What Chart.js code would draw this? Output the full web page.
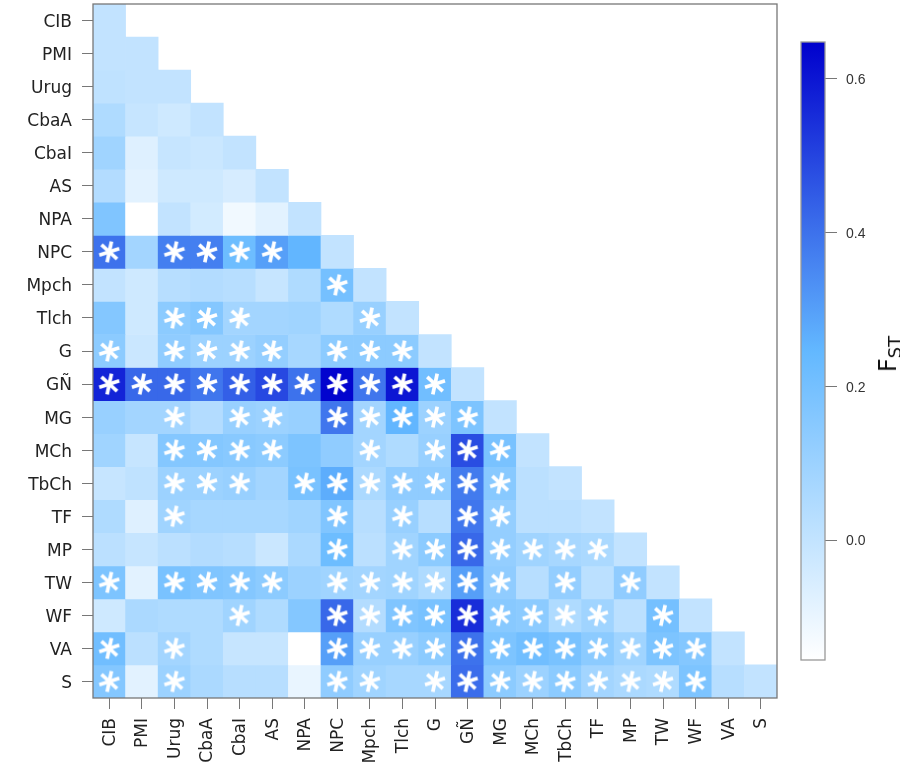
<!DOCTYPE html>
<html lang="en">
<head>
  <meta charset="UTF-8">
  <title>FST heatmap</title>
  <script src="https://cdn.jsdelivr.net/npm/chart.js"></script>
  <style>
    body { margin: 0; background: #fff; overflow: hidden; }
    .wrap { position: relative; width: 900px; height: 768px; overflow: hidden; }
    canvas { position: absolute; left: 0; top: 0; }
    /* the y labels push the plot down 8px, so the canvas starts above the page */
    #heat { top: -8px; }
    #fst {
      position: absolute; left: 888px; top: 354px;
      transform: translate(-50%, -50%) rotate(-90deg);
      font: 24px "DejaVu Sans"; color: #111; white-space: nowrap;
    }
    #fst sub { font-size: 18px; vertical-align: -5px; line-height: 0; }
  </style>
</head>
<body>
  <div class="wrap">
    <canvas id="heat" width="900" height="776"></canvas>
    <canvas id="bar" width="900" height="768"></canvas>
    <div id="fst">F<sub>ST</sub></div>
  </div>

  <script>
    const pops = ['CIB', 'PMI', 'Urug', 'CbaA', 'CbaI', 'AS', 'NPA', 'NPC', 'Mpch', 'Tlch', 'G', 'GÑ', 'MG', 'MCh', 'TbCh', 'TF', 'MP', 'TW', 'WF', 'VA', 'S'];

    // lower triangle
    const rowCIB = [0];
    const rowPMI = [0, 0];
    const rowUrug = [0.01, 0, 0];
    const rowCbaA = [0.05, -0.01, -0.03, 0];
    const rowCbaI = [0.09, -0.07, -0.01, -0.02, 0];
    const rowAS = [0.04, -0.08, -0.03, -0.03, -0.05, 0];
    const rowNPA = [0.17, -0.156, 0, -0.04, -0.12, -0.08, 0];
    const rowNPC = [0.40, 0.08, 0.37, 0.37, 0.22, 0.30, 0.25, 0];
    const rowMpch = [0, -0.03, 0.03, 0.04, 0.03, -0.01, 0.05, 0.20, 0];
    const rowTlch = [0.16, -0.03, 0.14, 0.16, 0.08, 0.08, 0.09, 0.05, 0.11, 0];
    const rowG = [0.14, -0.02, 0.13, 0.10, 0.10, 0.12, 0.07, 0.14, 0.14, 0.14, 0];
    const rowGN = [0.57, 0.42, 0.42, 0.39, 0.44, 0.49, 0.40, 0.64, 0.39, 0.60, 0.21, 0];
    const rowMG = [0.11, 0.08, 0.08, 0.04, 0.11, 0.10, 0.11, 0.39, 0.08, 0.25, 0.10, 0.18, 0];
    const rowMCh = [0.09, -0.01, 0.16, 0.16, 0.15, 0.14, 0.18, 0.13, 0.08, 0.05, 0.11, 0.48, 0.19, 0];
    const rowTbCh = [-0.01, 0.01, 0.10, 0.10, 0.11, 0.08, 0.19, 0.27, 0.06, 0.13, 0.13, 0.38, 0.15, 0.02, 0];
    const rowTF = [0.05, -0.07, 0.09, 0.07, 0.07, 0.07, 0.09, 0.17, 0.03, 0.11, 0.03, 0.39, 0.12, 0.02, 0.02, 0];
    const rowMP = [0.02, -0.01, 0.02, 0.04, 0.03, -0.02, 0.06, 0.22, 0.02, 0.09, 0.14, 0.42, 0.12, 0.09, 0.07, 0.06, 0];
    const rowTW = [0.18, -0.08, 0.19, 0.17, 0.16, 0.14, 0.10, 0.09, 0.08, 0.09, 0.05, 0.30, 0.13, 0.03, 0.12, 0.02, 0.13, 0];
    const rowWF = [-0.03, 0.06, 0.05, 0.05, 0.09, 0.05, 0.16, 0.42, 0.04, 0.17, 0.19, 0.55, 0.15, 0.14, 0.05, 0.09, 0.02, 0.20, 0];
    const rowVA = [0.21, 0.02, 0.08, 0.05, -0.01, -0.01, -0.156, 0.30, 0.11, 0.11, 0.14, 0.40, 0.18, 0.21, 0.19, 0.14, 0.09, 0.18, 0.16, 0];
    const rowS = [0.16, -0.08, 0.10, 0.06, 0.03, 0.03, -0.10, 0.13, 0.09, 0.07, 0.07, 0.41, 0.14, 0.10, 0.14, 0.08, 0.06, 0.05, 0.18, 0.03, 0];
    const fstRows = [rowCIB, rowPMI, rowUrug, rowCbaA, rowCbaI, rowAS, rowNPA, rowNPC, rowMpch, rowTlch, rowG, rowGN, rowMG, rowMCh, rowTbCh, rowTF, rowMP, rowTW, rowWF, rowVA, rowS];

    // significant pairs: row index, then column indexes
    const sigNPC = [0, 2, 3, 4, 5];
    const sigMpch = [7];
    const sigTlch = [2, 3, 4, 8];
    const sigG = [0, 2, 3, 4, 5, 7, 8, 9];
    const sigGN = [0, 1, 2, 3, 4, 5, 6, 7, 8, 9, 10];
    const sigMG = [2, 4, 5, 7, 8, 9, 10, 11];
    const sigMCh = [2, 3, 4, 5, 8, 10, 11, 12];
    const sigTbCh = [2, 3, 4, 6, 7, 8, 9, 10, 11, 12];
    const sigTF = [2, 7, 9, 11, 12];
    const sigMP = [7, 9, 10, 11, 12, 13, 14, 15];
    const sigTW = [0, 2, 3, 4, 5, 7, 8, 9, 10, 11, 12, 14, 16];
    const sigWF = [4, 7, 8, 9, 10, 11, 12, 13, 14, 15, 17];
    const sigVA = [0, 2, 7, 8, 9, 10, 11, 12, 13, 14, 15, 16, 17, 18];
    const sigS = [0, 2, 7, 8, 10, 11, 12, 13, 14, 15, 16, 17, 18];
    const sigRows = [[7, sigNPC], [8, sigMpch], [9, sigTlch], [10, sigG], [11, sigGN], [12, sigMG], [13, sigMCh], [14, sigTbCh], [15, sigTF], [16, sigMP], [17, sigTW], [18, sigWF], [19, sigVA], [20, sigS]];

    const fstTicks = [0, 0.2, 0.4, 0.6];
    const fstMin = -0.156, fstMid = 0.246, fstMax = 0.648;
    const rampLow = [255, 255, 255], rampMid = [99, 184, 255], rampHigh = [0, 0, 205];

    function fstColor(v) {
      const a = v < fstMid ? rampLow : rampMid;
      const b = v < fstMid ? rampMid : rampHigh;
      const t = v < fstMid ? (v - fstMin) / (fstMid - fstMin) : (v - fstMid) / (fstMax - fstMid);
      return 'rgb(' + a.map((c, i) => Math.round(c + (b[i] - c) * t)).join(',') + ')';
    }

    // white six armed asterisk
    function makeStar() {
      const c = document.createElement('canvas');
      c.width = 24; c.height = 24;
      const g = c.getContext('2d');
      g.strokeStyle = '#fff';
      g.lineWidth = 3.7;
      g.translate(12, 12);
      g.rotate(12 * Math.PI / 180);
      for (let i = 0; i < 6; i++) {
        g.beginPath();
        g.moveTo(0, 0);
        g.lineTo(0, -10.5);
        g.stroke();
        g.rotate(Math.PI / 3);
      }
      return c;
    }

    const cellSets = fstRows.map((row, r) => ({
      label: pops[r],
      order: 2,
      data: pops.map((p, c) => c < row.length ? [r - 0.5, r + 0.5] : null),
      backgroundColor: pops.map((p, c) => c < row.length ? fstColor(row[c]) : 'transparent'),
      barPercentage: 1,
      categoryPercentage: 1,
      borderWidth: 0
    }));

    const starPoints = [];
    sigRows.forEach(([r, cols]) => cols.forEach(c => starPoints.push({ x: pops[c], y: r })));

    const boxPlugin = {
      id: 'box',
      afterDraw(chart) {
        const a = chart.chartArea, g = chart.ctx;
        g.save();
        g.strokeStyle = chart.options.boxColor || '#777';
        g.lineWidth = 1.3;
        g.strokeRect(a.left, a.top, a.width, a.height);
        g.restore();
      }
    };

    new Chart(document.getElementById('heat'), {
      type: 'bar',
      data: {
        labels: pops,
        datasets: [...cellSets, {
          type: 'scatter',
          order: 1,
          data: starPoints,
          pointStyle: makeStar(),
          pointRadius: 11,
          showLine: false
        }]
      },
      options: {
        responsive: false,
        animation: false,
        devicePixelRatio: 1,
        layout: { padding: { top: 4, right: 123, left: 0, bottom: 0 } },
        plugins: { legend: { display: false }, tooltip: { enabled: false } },
        scales: {
          x: {
            stacked: true,
            offset: true,
            grid: { drawOnChartArea: false, tickLength: 11, tickColor: '#777', offset: false },
            border: { display: false },
            ticks: { autoSkip: false, minRotation: 90, maxRotation: 90, padding: 9, labelOffset: 1, color: '#222', font: { family: 'DejaVu Sans', size: 17 } },
            afterFit(s) { s.height = 70; s.paddingLeft = 0; s.paddingRight = 0; }
          },
          y: {
            reverse: true,
            min: -0.5,
            max: 20.5,
            grid: { drawOnChartArea: false, tickLength: 11, tickColor: '#777' },
            border: { display: false },
            afterBuildTicks(s) { s.ticks = pops.map((p, i) => ({ value: i })); },
            ticks: { autoSkip: false, padding: 10, labelOffset: 2, color: '#222', font: { family: 'DejaVu Sans', size: 17 }, callback: v => pops[v] },
            afterFit(s) { s.width = 93; s.paddingTop = 0; s.paddingBottom = 0; }
          }
        }
      },
      plugins: [boxPlugin]
    });

    new Chart(document.getElementById('bar'), {
      type: 'bar',
      data: {
        labels: ['FST'],
        datasets: [{
          data: [[fstMin, fstMax]],
          barPercentage: 1,
          categoryPercentage: 1,
          borderWidth: 0,
          backgroundColor(ctx) {
            const chart = ctx.chart;
            if (!chart.chartArea) return '#fff';
            const s = chart.scales.y;
            const g = chart.ctx.createLinearGradient(0, s.bottom, 0, s.top);
            g.addColorStop(0, fstColor(fstMin));
            g.addColorStop(0.5, fstColor(fstMid));
            g.addColorStop(1, fstColor(fstMax));
            return g;
          }
        }]
      },
      options: {
        responsive: false,
        animation: false,
        devicePixelRatio: 1,
        boxColor: '#999',
        layout: { padding: { top: 42, right: 0, left: 801, bottom: 108 } },
        plugins: { legend: { display: false }, tooltip: { enabled: false } },
        scales: {
          x: { display: false },
          y: {
            position: 'right',
            min: fstMin,
            max: fstMax,
            grid: { drawOnChartArea: false, tickLength: 12, tickColor: '#777' },
            border: { display: false },
            afterBuildTicks(s) { s.ticks = fstTicks.map(v => ({ value: v })); },
            ticks: { padding: 9, labelOffset: 1.5, color: '#333', font: { family: 'Liberation Sans', size: 14 }, callback: v => v.toFixed(1) },
            afterFit(s) { s.width = 75; s.paddingTop = 0; s.paddingBottom = 0; }
          }
        }
      },
      plugins: [boxPlugin]
    });
  </script>
</body>
</html>
